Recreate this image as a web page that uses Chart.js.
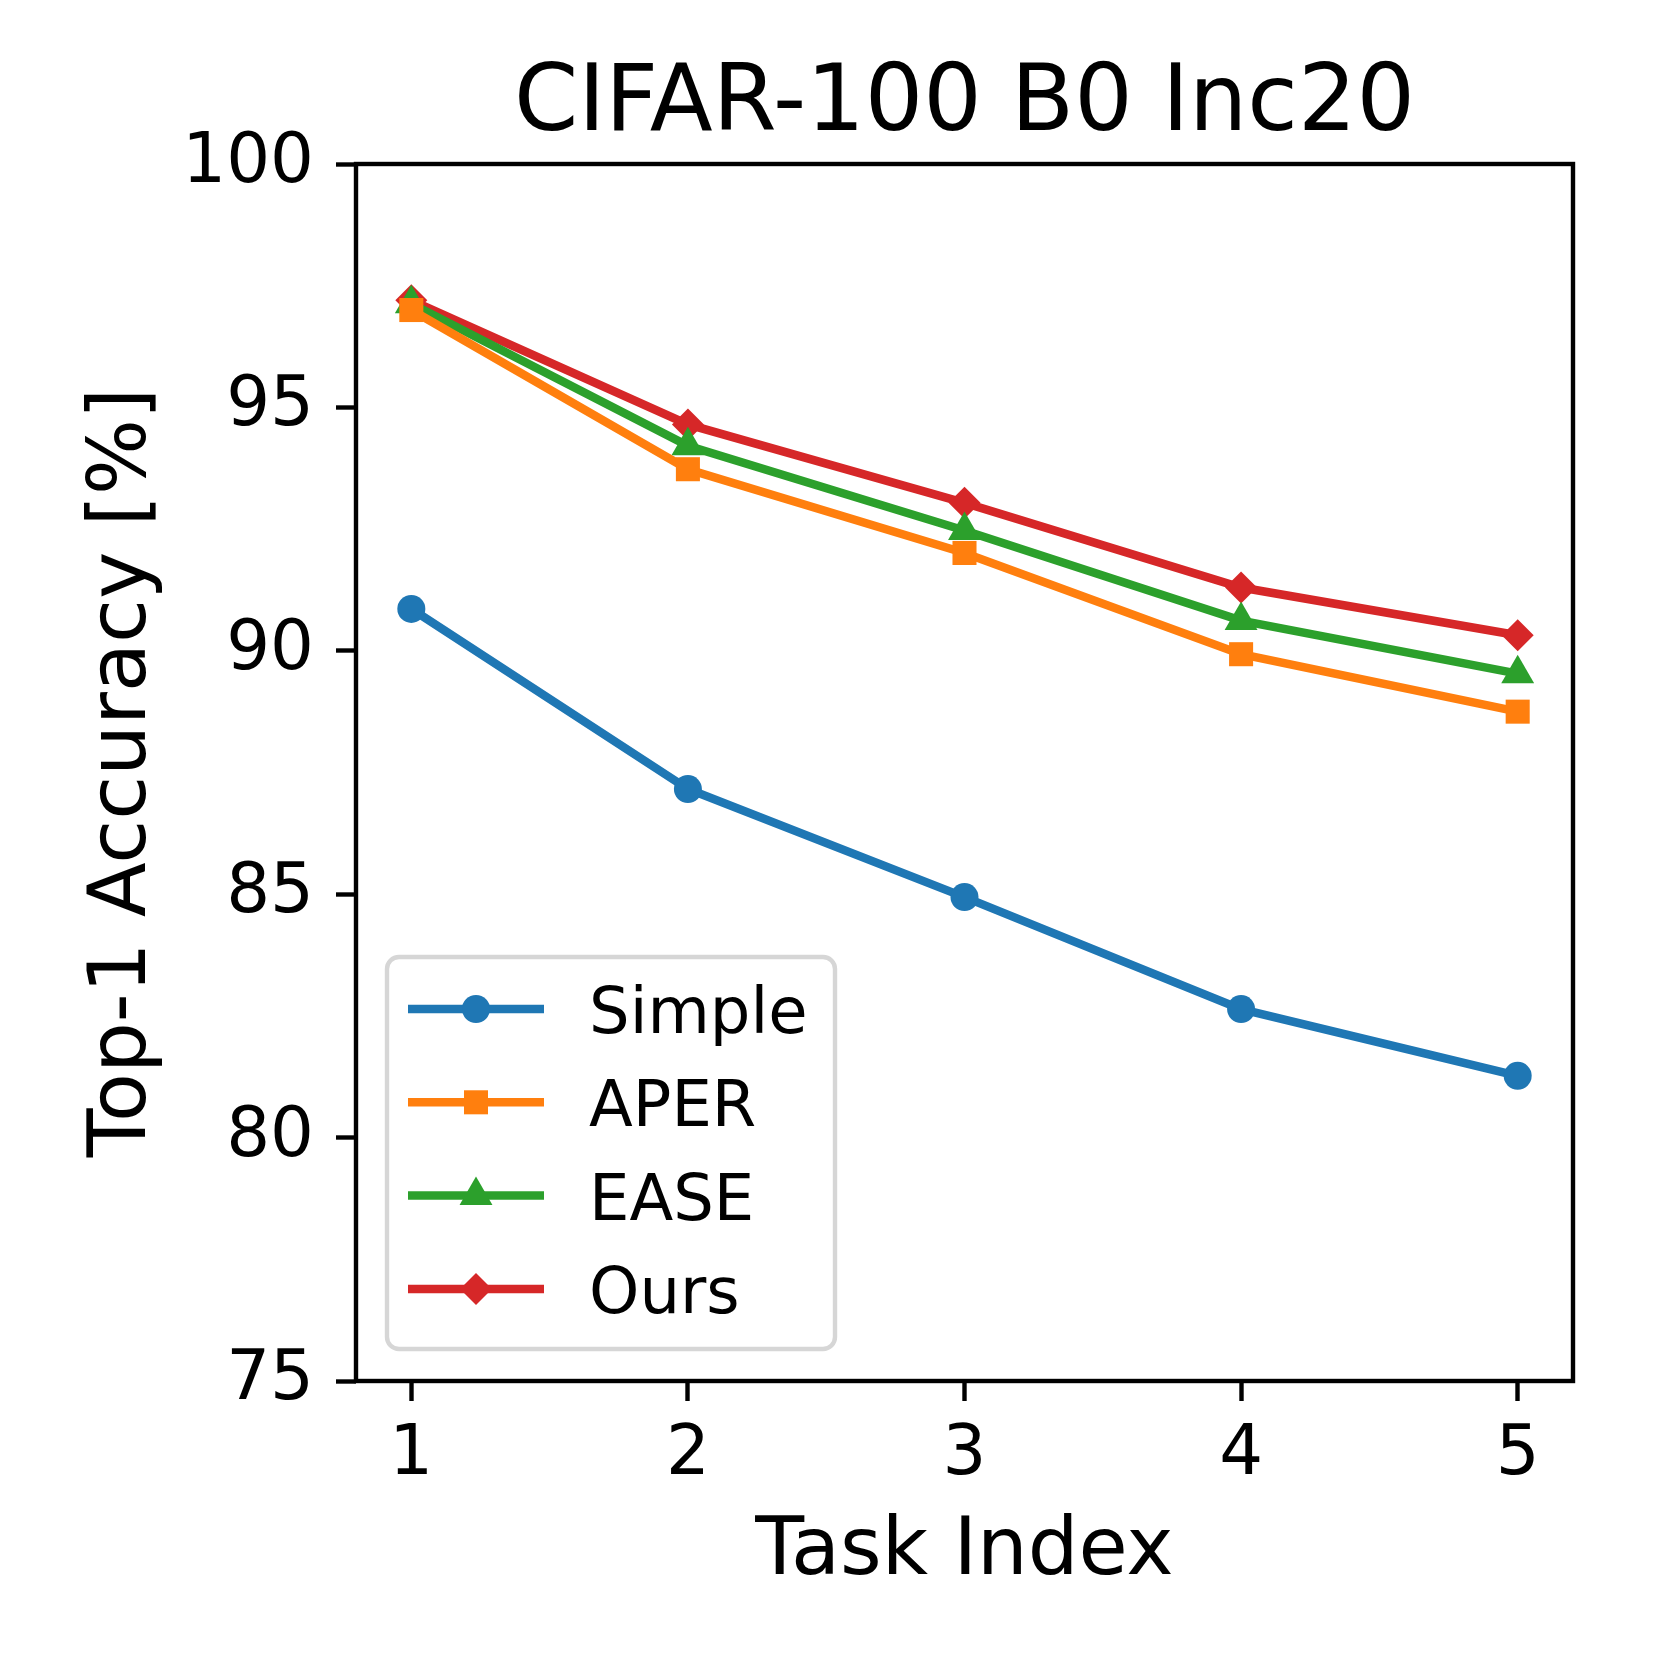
<!DOCTYPE html>
<html>
<head>
<meta charset="utf-8">
<script src="https://cdn.jsdelivr.net/npm/chart.js@4.4.1/dist/chart.umd.min.js"></script>
<style>
    html, body { margin: 0; padding: 0; background: #fff; }
    #wrap { width: 1661px; height: 1661px; }
</style>
</head>
<body>
<div id="wrap"><canvas id="accChart" width="1661" height="1661"></canvas></div>
<script>
// values
const taskIndex = [1, 2, 3, 4, 5];
const simpleAcc = [90.86, 87.16, 84.94, 82.64, 81.27];
const aperAcc = [97.00, 93.73, 92.01, 89.93, 88.75];
const easeAcc = [97.13, 94.21, 92.47, 90.62, 89.53];
const oursAcc = [97.20, 94.65, 93.04, 91.30, 90.32];
const yTicks = [75, 80, 85, 90, 95, 100];

const FONT = "'DejaVu Sans', sans-serif";

function toPoints(values) {
    return taskIndex.map((t, i) => ({ x: t, y: values[i] }));
}

function makeSeries(label, values, color, style, radius) {
    return {
        label: label,
        data: toPoints(values),
        borderColor: color,
        backgroundColor: color,
        borderWidth: 8.5,
        pointStyle: style,
        pointRadius: radius,
        pointHoverRadius: radius,
        pointBorderWidth: 0,
        pointBackgroundColor: color,
        tension: 0
    };
}

// frame, title and in-axes legend (matplotlib style)
const figureExtras = {
    id: 'figureExtras',
    afterDraw(chart) {
        const ctx = chart.ctx;
        const area = chart.chartArea;
        ctx.save();

        // spines
        ctx.strokeStyle = '#000';
        ctx.lineWidth = 4.4;
        ctx.strokeRect(area.left, area.top, area.right - area.left, area.bottom - area.top);

        // title centred over the axes
        ctx.fillStyle = '#000';
        ctx.font = '92px ' + FONT;
        ctx.textAlign = 'center';
        ctx.textBaseline = 'alphabetic';
        ctx.fillText('CIFAR-100 B0 Inc20', (area.left + area.right) / 2, 130);

        // legend box
        const bx = area.left + 31, by = area.top + 793, bw = 448, bh = 392, r = 12;
        ctx.beginPath();
        ctx.moveTo(bx + r, by);
        ctx.arcTo(bx + bw, by, bx + bw, by + bh, r);
        ctx.arcTo(bx + bw, by + bh, bx, by + bh, r);
        ctx.arcTo(bx, by + bh, bx, by, r);
        ctx.arcTo(bx, by, bx + bw, by, r);
        ctx.closePath();
        ctx.fillStyle = 'rgba(255,255,255,0.8)';
        ctx.fill();
        ctx.strokeStyle = '#d6d6d6';
        ctx.lineWidth = 4.4;
        ctx.stroke();

        chart.data.datasets.forEach((ds, i) => {
            const rowY = by + 52 + i * 93.3;
            ctx.strokeStyle = ds.borderColor;
            ctx.lineWidth = ds.borderWidth;
            ctx.beginPath();
            ctx.moveTo(bx + 21, rowY);
            ctx.lineTo(bx + 157, rowY);
            ctx.stroke();
            ctx.fillStyle = ds.pointBackgroundColor;
            Chart.helpers.drawPoint(ctx, {
                pointStyle: ds.pointStyle,
                radius: ds.pointRadius,
                rotation: 0,
                borderWidth: 0
            }, bx + 89, rowY);
            ctx.fillStyle = '#000';
            ctx.font = '64px ' + FONT;
            ctx.textAlign = 'left';
            ctx.textBaseline = 'alphabetic';
            ctx.fillText(ds.label, bx + 202, rowY + 24);
        });
        ctx.restore();
    }
};

const ctx = document.getElementById('accChart').getContext('2d');
const accChart = new Chart(ctx, {
    type: 'line',
    data: {
        datasets: [
            makeSeries('Simple', simpleAcc, '#1f77b4', 'circle', 14),
            makeSeries('APER', aperAcc, '#ff7f0e', 'rect', 17),
            makeSeries('EASE', easeAcc, '#2ca02c', 'triangle', 19),
            makeSeries('Ours', oursAcc, '#d62728', 'rectRot', 16)
        ]
    },
    options: {
        responsive: false,
        animation: false,
        devicePixelRatio: 1,
        layout: {
            padding: { left: 0, right: 88, top: 164, bottom: 0 }
        },
        plugins: {
            legend: { display: false },
            title: { display: false },
            tooltip: { enabled: false }
        },
        scales: {
            x: {
                type: 'linear',
                min: 0.8,
                max: 5.2,
                afterBuildTicks: scale => {
                    scale.ticks = taskIndex.map(v => ({ value: v }));
                },
                afterFit: scale => { scale.height = 280; },
                grid: {
                    drawOnChartArea: false,
                    drawTicks: true,
                    tickLength: 20,
                    tickWidth: 4.4,
                    tickColor: '#000'
                },
                border: { display: false },
                ticks: {
                    color: '#000',
                    padding: 14,
                    maxRotation: 0,
                    font: { family: FONT, size: 69 }
                },
                title: {
                    display: true,
                    text: 'Task Index',
                    color: '#000',
                    font: { family: FONT, size: 80 },
                    padding: { top: 0, bottom: 60 }
                }
            },
            y: {
                min: 75,
                max: 100,
                afterBuildTicks: scale => {
                    scale.ticks = yTicks.map(v => ({ value: v }));
                },
                afterFit: scale => { scale.width = 356; },
                grid: {
                    drawOnChartArea: false,
                    drawTicks: true,
                    tickLength: 20,
                    tickWidth: 4.4,
                    tickColor: '#000'
                },
                border: { display: false },
                ticks: {
                    color: '#000',
                    padding: 22,
                    font: { family: FONT, size: 69 }
                },
                title: {
                    display: true,
                    text: 'Top-1 Accuracy [%]',
                    color: '#000',
                    font: { family: FONT, size: 80 },
                    padding: { top: 76, bottom: 0 }
                }
            }
        }
    },
    plugins: [figureExtras]
});
</script>
</body>
</html>
